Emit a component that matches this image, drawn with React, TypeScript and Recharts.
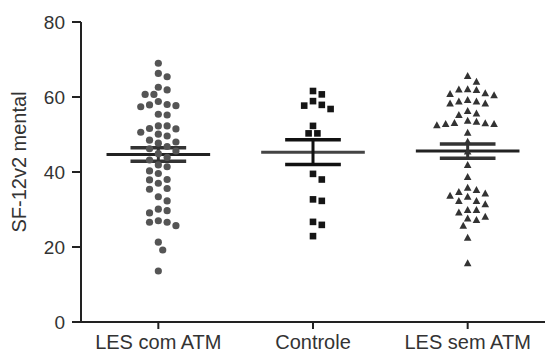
import * as React from 'react';
import { ScatterChart, Scatter, XAxis, YAxis, ReferenceLine } from 'recharts';

const groups = ['LES com ATM', 'Controle', 'LES sem ATM'];
const yTicks = [0, 20, 40, 60, 80];
const yTitle = 'SF-12v2 mental';

const lesComAtm = [
  69, 66.3, 65.4, 62.6, 61.9, 60.7, 60.7, 58.8, 58.0, 57.9, 57.7, 57.4,
  55.4, 55.2, 52.3, 52.3, 51.6, 51.5, 50.6, 50.1, 49.6, 48.5, 47.7, 48.0,
  46.8, 46.2, 45.6, 44.9, 43.9, 43.2, 41.9, 41.4, 40.3, 39.6, 38.0, 37.9,
  37.0, 35.6, 35.4, 33.4, 32.3, 30.1, 29.7, 29.1, 27.0, 26.6, 26.6, 25.7,
  21.3, 19.2, 13.6,
];
const controle = [
  61.6, 60.7, 57.9, 56.8, 57.7, 58.9, 52.3, 50.3, 50.3, 39.5, 38.0, 32.3,
  32.7, 26.7, 25.9, 22.9,
];
const lesSemAtm = [
  65.6, 64.1, 62.0, 61.0, 61.9, 62.1, 60.8, 60.5, 58.8, 58.3, 58.3, 58.8,
  59.2, 55.6, 56.3, 55.2, 52.8, 53.0, 53.7, 53.4, 52.8, 52.5, 53.1, 50.5,
  48.1, 45.5, 41.9, 38.7, 35.8, 34.7, 34.3, 35.2, 33.7, 33.4, 32.3, 31.4,
  32.3, 29.9, 29.2, 29.9, 27.6, 28.1, 27.2, 25.7, 22.5, 15.7,
];

// mean and SEM as drawn in the figure
const means = [44.7, 45.3, 45.6];
const sems = [1.8, 3.3, 1.9];

const W = 546;
const H = 356;
const LEFT = 81;
const RIGHT = 1;
const TOP = 22;
const BOTTOM = 34;
const pxPerX = (W - LEFT - RIGHT) / 3;
const pxPerY = (H - TOP - BOTTOM) / 80;

// simple beeswarm: push each dot sideways until it stops overlapping
function swarm(values: number[], center: number) {
  const placed: { px: number; py: number }[] = [];
  const sorted = [...values].sort((a, b) => b - a);
  const step = 4.4;
  const d = 8.2;
  return sorted.map((v) => {
    const py = v * pxPerY;
    let px = 0;
    for (let k = 0; k < 40; k++) {
      const off = k === 0 ? 0 : (k % 2 ? 1 : -1) * Math.ceil(k / 2) * step;
      const hit = placed.some((p) => Math.hypot(p.px - off, p.py - py) < d);
      if (!hit) {
        px = off;
        break;
      }
    }
    placed.push({ px, py });
    return { x: center + px / pxPerX, y: v };
  });
}

const data1 = swarm(lesComAtm, 0.5);
const data2 = swarm(controle, 1.5);
const data3 = swarm(lesSemAtm, 2.5);

const Circle = (p: any) => <circle cx={p.cx} cy={p.cy} r={3.6} fill="#555" />;
const Square = (p: any) => <rect x={p.cx - 3.3} y={p.cy - 3.3} width={6.6} height={6.6} fill="#151515" />;
const Tri = (p: any) => (
  <polygon
    points={`${p.cx},${p.cy - 4} ${p.cx - 3.8},${p.cy + 3} ${p.cx + 3.8},${p.cy + 3}`}
    fill="#333"
  />
);

const font = '"Liberation Sans", Arial, sans-serif';

function ErrorMarks(i: number, color: string, meanColor: string) {
  const c = i + 0.5;
  const m = means[i];
  const s = sems[i];
  return [
    <ReferenceLine key={`m${i}`} segment={[{ x: c - 0.335, y: m }, { x: c + 0.335, y: m }]} stroke={meanColor} strokeWidth={3} />,
    <ReferenceLine key={`u${i}`} segment={[{ x: c - 0.18, y: m + s }, { x: c + 0.18, y: m + s }]} stroke={color} strokeWidth={3.5} />,
    <ReferenceLine key={`l${i}`} segment={[{ x: c - 0.18, y: m - s }, { x: c + 0.18, y: m - s }]} stroke={color} strokeWidth={3.5} />,
    <ReferenceLine key={`v${i}`} segment={[{ x: c, y: m - s }, { x: c, y: m + s }]} stroke={color} strokeWidth={3} />,
  ];
}

const YTitle = () => (
  <text
    x={19}
    y={162}
    transform="rotate(-90, 19, 162)"
    textAnchor="middle"
    dominantBaseline="central"
    fill="#333"
    fontSize={20}
    fontFamily={font}
  >
    {yTitle}
  </text>
);

export default function App() {
  return (
    <div style={{ width: W, height: H, background: '#fff' }}>
      <style>{'body{margin:0}'}</style>
      <ScatterChart width={W} height={H} margin={{ top: TOP, right: RIGHT, bottom: 0, left: 0 }}>
        <XAxis
          type="number"
          dataKey="x"
          domain={[0, 3]}
          ticks={[0.5, 1.5, 2.5]}
          tickFormatter={(v: number) => groups[Math.floor(v)]}
          height={BOTTOM}
          stroke="#222"
          strokeWidth={2}
          tickSize={7}
          tickMargin={6}
          tick={{ fill: '#333', fontSize: 20, fontFamily: font }}
          allowDataOverflow
        />
        <YAxis
          type="number"
          dataKey="y"
          domain={[0, 80]}
          ticks={yTicks}
          width={LEFT}
          stroke="#222"
          strokeWidth={2}
          tickSize={9}
          tickMargin={7}
          tick={{ fill: '#333', fontSize: 19, fontFamily: font }}
          label={{ content: YTitle }}
        />
        <Scatter data={data1} shape={Circle} isAnimationActive={false} />
        <Scatter data={data2} shape={Square} isAnimationActive={false} />
        <Scatter data={data3} shape={Tri} isAnimationActive={false} />
        {ErrorMarks(0, '#333', '#222')}
        {ErrorMarks(1, '#111', '#444')}
        {ErrorMarks(2, '#333', '#222')}
      </ScatterChart>
    </div>
  );
}
